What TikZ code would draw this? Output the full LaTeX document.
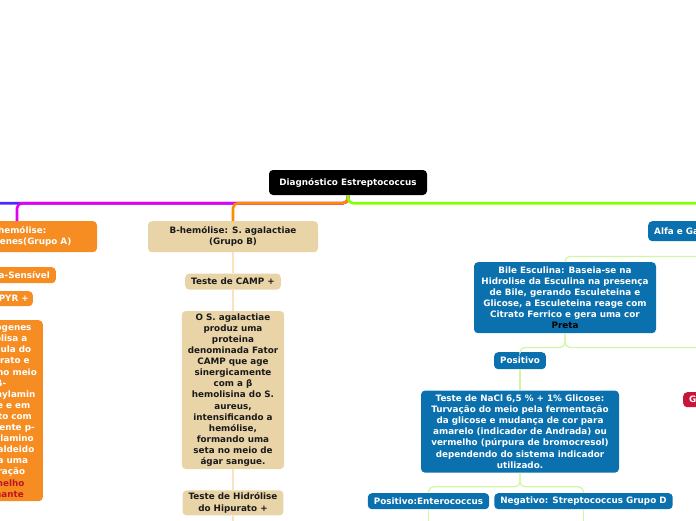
\documentclass[tikz,border=0pt]{standalone}
\usepackage{fontspec}
\setmainfont{DejaVu Sans}
\usetikzlibrary{positioning}
\definecolor{mmorange}{HTML}{F68D23}
\definecolor{mmtan}{HTML}{E9D4A7}
\definecolor{mmblue}{HTML}{0B70AE}
\definecolor{mmred}{HTML}{C8153A}
\definecolor{mmdark}{HTML}{1A1A1A}
\definecolor{linkblue}{HTML}{4A2BFF}
\definecolor{linkmagenta}{HTML}{E000F5}
\definecolor{linkorange}{HTML}{FF8C00}
\definecolor{linkgreen}{HTML}{88FF00}
\definecolor{tanlink}{HTML}{FBE1BE}
\definecolor{greenlink}{HTML}{D2F7A4}
\definecolor{alertred}{HTML}{C0141E}
\newcommand{\mapfont}{\fontsize{8.8}{11.1}\selectfont\bfseries}
\tikzset{
  topic/.style={
    rounded corners=4pt,
    align=center,
    inner xsep=6pt,
    inner ysep=2pt,
    font=\mapfont
  },
  rootbox/.style={topic,fill=black,text=white,minimum width=158pt,minimum height=25pt},
  orangebox/.style={topic,fill=mmorange,text=white},
  tanbox/.style={topic,fill=mmtan,text=mmdark},
  bluebox/.style={topic,fill=mmblue,text=white},
  redbox/.style={topic,fill=mmred,text=white},
  mainline/.style={line width=2.6pt,rounded corners=5pt},
  tanline/.style={draw=tanlink,line width=1.5pt},
  greenline/.style={draw=greenlink,line width=1.3pt,rounded corners=5pt}
}

\begin{document}
\begin{tikzpicture}[x=1pt,y=-1pt,node distance=21pt]
  \clip (0,0) rectangle (696,520);
  \node[rootbox] (root) at (348,182.5) {Diagnóstico Estreptococcus};
  % grupo A
  \node[orangebox,minimum width=160pt,minimum height=31pt,anchor=north] (hemA) at (17,221) {B-hemólise:\\S. pyogenes(Grupo A)};
  \node[orangebox,minimum height=16pt,anchor=north east] (bacitracina) at (56,267) {Bacitracina-Sensível};
  \node[orangebox,minimum height=15pt,inner xsep=4pt,anchor=north east] (pyr) at (33,291) {PYR +};
  \node[orangebox,minimum height=181pt,anchor=north east] (pyrText) at (43,320) {S. pyogenes\\hidrolisa a\\molécula do\\substrato e\\libera no meio\\β-\\naphthylamin\\a livre e em\\contato com\\o reagente p-\\dimetilamino\\cinamaldeido\\forma uma\\coloração\\{\color{alertred}vermelho}\\{\color{alertred}brilhante}};
  \coordinate (offA) at (-40,230);
  % grupo B
  \node[tanbox,minimum width=170pt,minimum height=31pt,anchor=north] (hemB) at (233,221) {B-hemólise: S. agalactiae\\(Grupo B)};
  \node[tanbox,minimum height=16pt,below=of hemB] (camp) {Teste de CAMP +};
  \node[tanbox,minimum width=100pt,minimum height=158pt,below=of camp] (campText) {O S. agalactiae\\produz uma\\proteina\\denominada Fator\\CAMP que age\\sinergicamente\\com a β\\hemolisina do S.\\aureus,\\intensificando a\\hemólise,\\formando uma\\seta no meio de\\ágar sangue.};
  \node[tanbox,minimum height=25pt,below=of campText] (hipurato) {Teste de Hidrólise\\do Hipurato +};
  \coordinate (hipEnd) at (233,530);
  % alfa e gama
  \node[bluebox,minimum height=20pt,anchor=north west] (alfa) at (648,221) {Alfa e Gama hemólise};
  \node[bluebox,minimum width=182pt,minimum height=71pt,anchor=north] (bile) at (565,262) {Bile Esculina: Baseia-se na\\Hidrolise da Esculina na presença\\de Bile, gerando Esculeteina e\\Glicose, a Esculeteina reage com\\Citrato Ferrico e gera uma cor\\{\color{black}Preta}};
  \node[bluebox,minimum height=17pt,anchor=north] (positivo) at (520,352) {Positivo};
  \node[bluebox,minimum width=198pt,minimum height=82pt,below=of positivo] (nacl) {Teste de NaCl 6,5 \% + 1\% Glicose:\\Turvação do meio pela fermentação\\da glicose e mudança de cor para\\amarelo (indicador de Andrada) ou\\vermelho (púrpura de bromocresol)\\dependendo do sistema indicador\\utilizado.};
  \node[bluebox,minimum height=16pt,anchor=north] (entero) at (428.5,493) {Positivo:Enterococcus};
  \node[bluebox,minimum height=16pt,anchor=north] (grupoD) at (583.5,493) {Negativo: Streptococcus Grupo D};
  \node[redbox,minimum height=15pt,anchor=north west] (viridans) at (683,392) {Grupo Viridans};
  \coordinate (enteroEnd) at (428.5,530);
  \coordinate (grupoDEnd) at (583.5,530);
  % ramos principais
  \draw[mainline,linkblue] (root.south) -- ++(0,8) -| (offA);
  \draw[mainline,linkmagenta] (root.south) -- ++(0,8) -| (hemA.north);
  \draw[mainline,linkorange] (root.south) -- ++(0,8) -| (hemB.north);
  \draw[mainline,linkgreen] (root.south) -- ++(0,8) -| (alfa.north);
  % ligacoes
  \draw[tanline] (hemB) -- (camp);
  \draw[tanline] (camp) -- (campText);
  \draw[tanline] (campText) -- (hipurato);
  \draw[tanline] (hipurato) -- (hipEnd);
  \draw[greenline] (alfa.south) -- ++(0,15) -| (bile.north);
  \draw[greenline] (bile.south) -- ++(0,14) -| (positivo.north);
  \draw[greenline] (bile.south) -- ++(0,14) -| (viridans.north);
  \draw[greenline] (positivo) -- (nacl);
  \draw[greenline] (nacl.south) -- ++(0,14) -| (entero.north);
  \draw[greenline] (nacl.south) -- ++(0,14) -| (grupoD.north);
  \draw[greenline] (entero) -- (enteroEnd);
  \draw[greenline] (grupoD) -- (grupoDEnd);
\end{tikzpicture}
\end{document}
